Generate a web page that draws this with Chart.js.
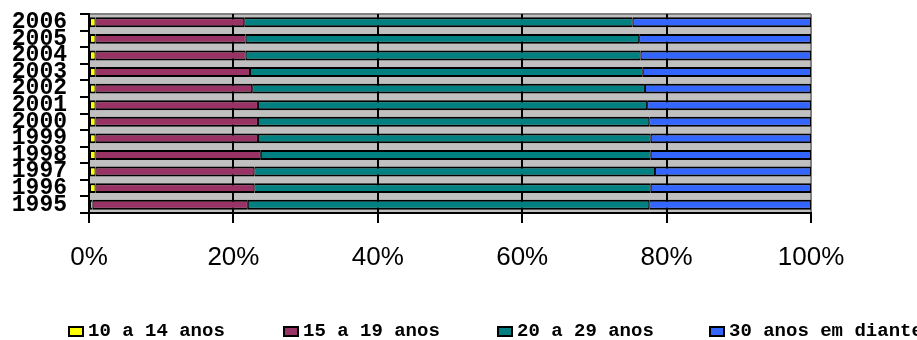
<!DOCTYPE html>
<html lang="pt">
<head>
<meta charset="UTF-8">
<title>Faixa etária por ano</title>
<script src="https://cdn.jsdelivr.net/npm/chart.js"></script>
<style>
  body { margin: 0; background: #fff; overflow: hidden; }
  #wrap { position: relative; width: 917px; height: 340px; overflow: hidden; }
  #legend { position: absolute; left: 0; top: 318px; width: 917px; height: 22px; }
  .item { position: absolute; top: 0; white-space: nowrap; font: bold 19px "Liberation Mono", monospace; color: #000; line-height: 22px; }
  .box { position: absolute; left: 0; top: 8px; width: 12px; height: 7px; border: 2px solid #000; }
  .item span.txt { position: absolute; left: 20px; top: 2px; }
</style>
</head>
<body>
<div id="wrap">
  <canvas id="myChart" width="917" height="340"></canvas>
  <div id="legend"></div>
</div>
<script>
  // data (percent of each age group per year)
  var years = ['1995', '1996', '1997', '1998', '1999', '2000', '2001', '2002', '2003', '2004', '2005', '2006'];
  var seriesNames = ['10 a 14 anos', '15 a 19 anos', '20 a 29 anos', '30 anos em diante'];
  var age10a14 = [0.5, 0.9, 0.9, 0.9, 0.9, 0.9, 0.9, 0.9, 0.9, 0.9, 0.9, 0.9];
  var age15a19 = [21.5, 22.0, 22.0, 22.9, 22.5, 22.5, 22.5, 21.7, 21.4, 20.8, 20.8, 20.6];
  var age20a29 = [55.6, 54.9, 55.5, 54.0, 54.4, 54.2, 53.9, 54.4, 54.4, 54.7, 54.5, 53.8];
  var age30mais = [22.4, 22.2, 21.6, 22.2, 22.2, 22.4, 22.7, 23.0, 23.3, 23.6, 23.8, 24.7];
  var xTicks = [0, 20, 40, 60, 80, 100];

  var colors = ['#FFFF00', '#993366', '#008080', '#3366FF'];
  var values = [age10a14, age15a19, age20a29, age30mais];

  // gray plot background + gray top edge
  const plotBg = {
    id: 'plotBg',
    beforeDraw(chart) {
      const a = chart.chartArea;
      const c = chart.ctx;
      c.save();
      c.fillStyle = '#C0C0C0';
      c.fillRect(a.left, a.top, a.right - a.left, a.bottom - a.top);
      c.strokeStyle = '#808080';
      c.lineWidth = 2;
      c.beginPath();
      c.moveTo(a.left, a.top);
      c.lineTo(a.right, a.top);
      c.stroke();
      c.restore();
    }
  };

  var datasets = seriesNames.map((name, i) => ({
    label: name,
    data: values[i],
    backgroundColor: colors[i],
    borderColor: '#000',
    borderWidth: { top: 2, bottom: 2, left: 1, right: 1 },
    borderSkipped: false,
    barPercentage: 0.6,
    categoryPercentage: 1
  }));

  const ctx = document.getElementById('myChart');
  new Chart(ctx, {
    type: 'bar',
    data: { labels: years, datasets: datasets },
    plugins: [plotBg],
    options: {
      indexAxis: 'y',
      responsive: false,
      animation: false,
      layout: { padding: { top: 14, right: 106, bottom: 0, left: 0 } },
      plugins: { legend: { display: false }, tooltip: { enabled: false } },
      scales: {
        x: {
          stacked: true,
          min: 0,
          max: 100,
          afterFit: (s) => { s.height = 127; s.paddingLeft = 0; s.paddingRight = 0; },
          afterBuildTicks: (s) => { s.ticks = xTicks.map(v => ({ value: v })); },
          ticks: {
            color: '#000',
            padding: 19,
            font: { family: '"Liberation Sans", Arial, sans-serif', size: 26 },
            callback: (v) => v + '%'
          },
          grid: {
            color: (c) => (c.tick && c.tick.value === 100 ? '#808080' : '#000'),
            lineWidth: 2,
            tickLength: 10,
            tickColor: '#000'
          },
          border: { color: '#000', width: 2 }
        },
        y: {
          stacked: true,
          reverse: true,
          afterFit: (s) => { s.width = 89; s.paddingTop = 0; s.paddingBottom = 0; },
          ticks: {
            color: '#000',
            padding: 13,
            autoSkip: false,
            font: { family: '"Liberation Mono", monospace', size: 23, weight: 'bold', lineHeight: 1 }
          },
          grid: {
            drawOnChartArea: false,
            color: '#000',
            lineWidth: 2,
            tickLength: 9
          },
          border: { color: '#000', width: 2 }
        }
      }
    }
  });

  // legend in html, spaced like the original
  var legendLeft = [68, 283, 497, 709];
  var lg = document.getElementById('legend');
  seriesNames.forEach((name, i) => {
    var it = document.createElement('div');
    it.className = 'item';
    it.style.left = legendLeft[i] + 'px';
    it.innerHTML = '<div class="box" style="background:' + colors[i] + '"></div><span class="txt">' + name + '</span>';
    lg.appendChild(it);
  });
</script>
</body>
</html>
